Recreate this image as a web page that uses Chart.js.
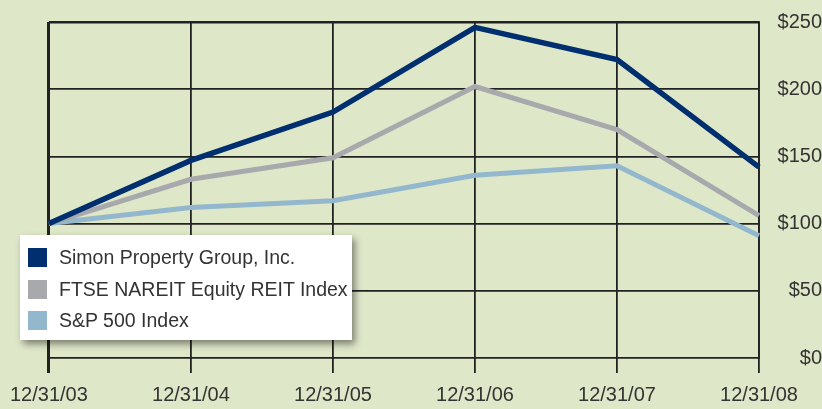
<!DOCTYPE html>
<html>
<head>
<meta charset="utf-8">
<script src="https://cdn.jsdelivr.net/npm/chart.js@4/dist/chart.umd.min.js"></script>
<style>
  html, body { margin: 0; padding: 0; background: #dfe7c9; }
  #wrap { position: relative; width: 822px; height: 409px; }
  #legend {
    position: absolute; left: 20px; top: 235px; width: 332px; height: 105px;
    background: #fff; box-shadow: 3px 4px 7px rgba(0,0,0,0.45);
    font-family: 'Liberation Sans', Arial, sans-serif; font-size: 19.5px; color: #333;
  }
  .row { position: absolute; left: 8px; height: 19px; line-height: 19px; white-space: nowrap; }
  .sw { display: inline-block; width: 19px; height: 19px; vertical-align: top; margin-right: 12px; }
</style>
</head>
<body>
<div id="wrap">
  <canvas id="c" width="822" height="409"></canvas>
  <div id="legend"></div>
</div>
<script>
const years   = ['12/31/03', '12/31/04', '12/31/05', '12/31/06', '12/31/07', '12/31/08'];
const simon   = [100, 147, 183, 246, 222, 142];
const nareit  = [100, 133, 149, 202, 170, 106];
const sp500   = [100, 112, 117, 136, 143, 91];
const names   = ['Simon Property Group, Inc.', 'FTSE NAREIT Equity REIT Index', 'S&P 500 Index'];
const colors  = ['#002f6f', '#a8a9ad', '#93b8cd'];

const INK  = '#222';
const FONT = { family: 'Liberation Sans', size: 20 };

const chart = new Chart(document.getElementById('c'), {
  type: 'line',
  data: {
    labels: years,
    datasets: [simon, nareit, sp500].map((d, i) => ({
      label: names[i], data: d,
      borderColor: colors[i], backgroundColor: colors[i],
      borderWidth: i === 0 ? 5.5 : 5, pointRadius: 0, tension: 0,
      borderJoinStyle: 'miter', borderCapStyle: 'butt',
    })),
  },
  options: {
    responsive: false, animation: false,
    layout: { padding: { left: 48, top: 22, right: 0, bottom: 0 } },
    plugins: { legend: { display: false }, tooltip: { enabled: false } },
    scales: {
      x: {
        offset: false,
        afterFit: s => { s.height = 51; },
        grid: {
          color: INK, tickLength: 15,
          lineWidth: c => c.index === 0 ? 3 : 1.8,
        },
        border: { display: false },
        ticks: { color: '#333', font: FONT, padding: 10, maxRotation: 0, autoSkip: false },
      },
      y: {
        position: 'right', min: 0, max: 250,
        afterFit: s => { s.width = 63; },
        grid: { color: INK, drawTicks: false, lineWidth: c => c.tick.value === 250 ? 2.5 : 1.8 },
        border: { display: true, color: INK, width: 1.8 },
        ticks: {
          stepSize: 50, color: '#333', font: FONT, padding: 4, crossAlign: 'far',
          callback: v => '$' + v,
        },
      },
    },
  },
});

// legend built from the chart's datasets
const lg = document.getElementById('legend');
chart.data.datasets.forEach((ds, i) => {
  const row = document.createElement('div');
  row.className = 'row';
  row.style.top = (13 + i * 31.5) + 'px';
  row.innerHTML = '<span class="sw" style="background:' + ds.borderColor + '"></span>' + ds.label;
  lg.appendChild(row);
});
</script>
</body>
</html>
